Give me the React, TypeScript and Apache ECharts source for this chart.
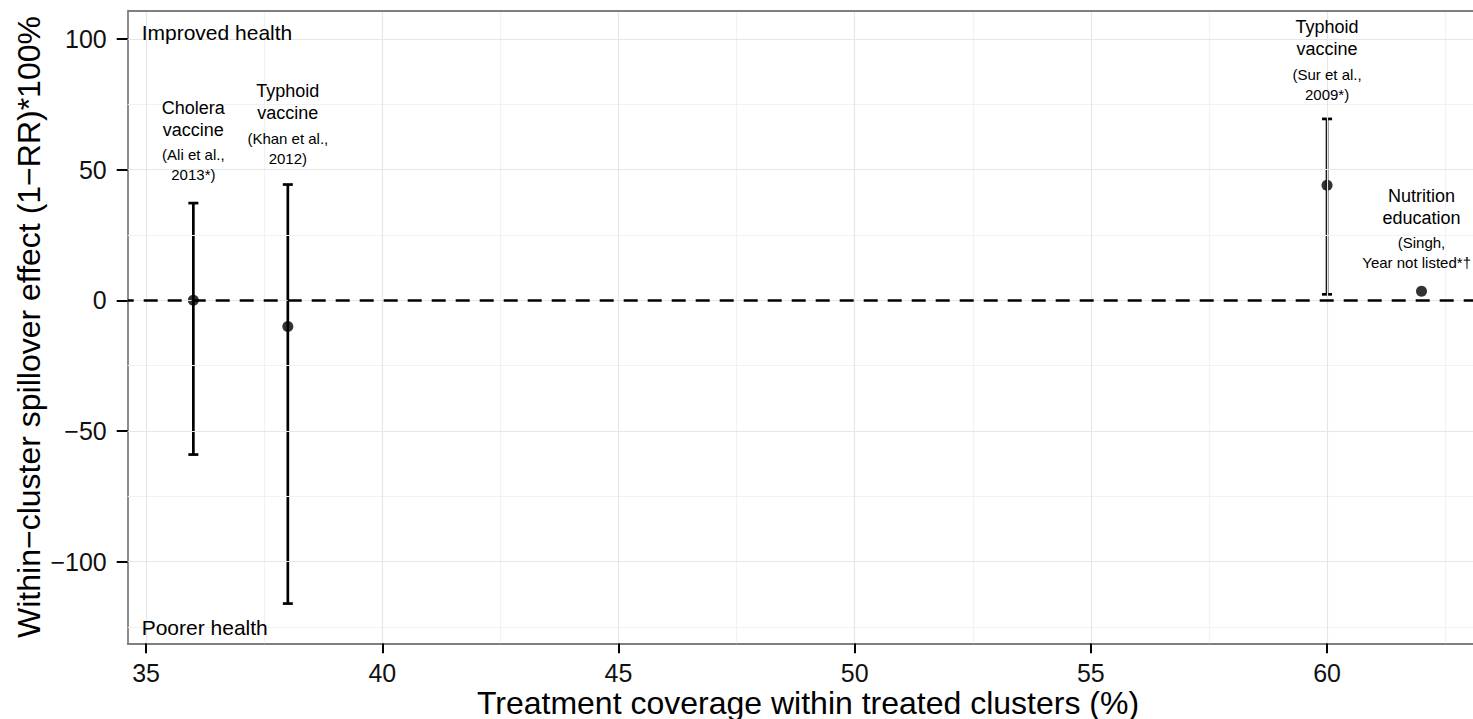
import React, { useEffect, useRef } from "react";
import * as echarts from "echarts";

// ---- data ----
const studyCoverage = [36, 38, 60, 62];
const spillover = [0, -10, 44, 3.5];
const ciLower: (number | null)[] = [-59, -116, 2.3, null];
const ciUpper: (number | null)[] = [37.2, 44.3, 69.4, null];
const interventionLines = [
  ["Cholera", "vaccine"],
  ["Typhoid", "vaccine"],
  ["Typhoid", "vaccine"],
  ["Nutrition", "education"],
];
const citationLines = [
  ["(Ali et al.,", "2013*)"],
  ["(Khan et al.,", "2012)"],
  ["(Sur et al.,", "2009*)"],
  ["(Singh,", "Year not listed*\u2020"],
];
const labelY = [73.6, 79.9, 104.5, 40.0];
const cornerNotes = ["Improved health", "Poorer health"];
const cornerNoteX = [34.906, 34.906];
const cornerNoteY = [102.3, -125.2];

const xTicks = [35, 40, 45, 50, 55, 60];
const yTicks = [-100, -50, 0, 50, 100];
const xMajorGrid = [35, 40, 45, 50, 55, 60];
const xMinorGrid = [37.5, 42.5, 47.5, 52.5, 57.5, 62.5];
const yMajorGrid = [-100, -50, 0, 50, 100];
const yMinorGrid = [-125, -75, -25, 25, 75];
// visible part of the panel (the right side of the original panel is cropped)
const xRange = [34.61, 63.09];
const yRange = [-131.2, 110.8];
const referenceLine = [0];

const FONT = "'Liberation Sans', Arial, Helvetica, sans-serif";
const fmtNum = (v: number) => (v < 0 ? "\u2212" + Math.abs(v) : String(v));
const BORDER = "#7f7f7f";

export default function App() {
  const ref = useRef<HTMLDivElement>(null);
  useEffect(() => {
    document.body.style.margin = "0";
    document.body.style.overflow = "hidden";
    document.documentElement.style.overflow = "hidden";
    if (!ref.current) return;
    const chart = echarts.init(ref.current, undefined, { renderer: "svg" });

    const canvas = document.createElement("canvas");
    const ctx = canvas.getContext("2d");
    const measure = (t: string, fs: number) => {
      if (!ctx) return t.length * fs * 0.5;
      ctx.font = `${fs}px ${FONT}`;
      return ctx.measureText(t).width;
    };

    const gridMark = (vals: number[], key: "xAxis" | "yAxis", color: string) =>
      vals.map((v) => ({ [key]: v, lineStyle: { color, width: 1.2, type: "solid" } }));

    const errData = studyCoverage
      .map((x, i) => [x, ciLower[i], ciUpper[i]])
      .filter((d) => d[1] !== null && d[2] !== null);

    const option: any = {
      animation: false,
      backgroundColor: "#ffffff",
      grid: {
        left: 127.7,
        top: 10.7,
        right: 0,
        bottom: 75.7,
        show: false,
      },
      xAxis: {
        type: "value",
        min: xRange[0],
        max: xRange[1],
        axisLine: { show: true, onZero: false, lineStyle: { color: BORDER, width: 1.8 } },
        axisTick: {
          show: true,
          customValues: xTicks,
          length: 10,
          lineStyle: { color: "#000", width: 2 },
        },
        axisLabel: {
          customValues: xTicks,
          fontSize: 25,
          lineHeight: 20,
          fontFamily: FONT,
          color: "#111",
          margin: 20,
          formatter: (v: number) => fmtNum(v),
        },
        splitLine: { show: false },
      },
      yAxis: {
        type: "value",
        min: yRange[0],
        max: yRange[1],
        axisLine: { show: true, onZero: false, lineStyle: { color: BORDER, width: 1.8 } },
        axisTick: {
          show: true,
          customValues: yTicks,
          length: 11,
          lineStyle: { color: "#000", width: 2 },
        },
        axisLabel: {
          customValues: yTicks,
          fontSize: 25,
          fontFamily: FONT,
          color: "#111",
          margin: 21,
          formatter: (v: number) => fmtNum(v),
        },
        splitLine: { show: false },
      },
      graphic: [
        {
          type: "text",
          x: 808,
          y: 702.5,
          style: {
            text: "Treatment coverage within treated clusters (%)",
            fontSize: 32,
            lineHeight: 28,
            fontFamily: FONT,
            fill: "#000",
            align: "center",
            verticalAlign: "middle",
          },
        },
        {
          type: "text",
          x: 29,
          y: 327,
          rotation: Math.PI / 2,
          style: {
            text: "Within\u2212cluster spillover effect (1\u2212RR)*100%",
            fontSize: 32,
            fontFamily: FONT,
            fill: "#000",
            align: "center",
            verticalAlign: "middle",
          },
        },
      ],
      series: [
        {
          type: "line",
          data: [],
          z: 1,
          silent: true,
          markLine: {
            silent: true,
            symbol: ["none", "none"],
            label: { show: false },
            animation: false,
            data: [
              ...gridMark(xMinorGrid, "xAxis", "#f2f2f2"),
              ...gridMark(yMinorGrid, "yAxis", "#f2f2f2"),
              ...gridMark(xMajorGrid, "xAxis", "#e6e6e6"),
              ...gridMark(yMajorGrid, "yAxis", "#e6e6e6"),
              { yAxis: yRange[1], lineStyle: { color: BORDER, width: 1.8, type: "solid" } },
            ],
          },
        },
        {
          type: "line",
          data: [],
          z: 2,
          silent: true,
          markLine: {
            silent: true,
            symbol: ["none", "none"],
            label: { show: false },
            animation: false,
            data: referenceLine.map((v) => ({
              yAxis: v,
              lineStyle: { color: "#000", width: 2.6, type: [14, 10], dashOffset: 8 },
            })),
          },
        },
        {
          type: "custom",
          z: 3,
          silent: true,
          data: errData,
          renderItem: (_p: any, api: any) => {
            const x = api.value(0);
            const lo = api.coord([x, api.value(1)]);
            const hi = api.coord([x, api.value(2)]);
            const hw = 5;
            const st = { stroke: "#000", lineWidth: 2.7 };
            return {
              type: "group",
              children: [
                { type: "line", shape: { x1: lo[0], y1: lo[1], x2: hi[0], y2: hi[1] }, style: st },
                { type: "line", shape: { x1: lo[0] - hw, y1: lo[1], x2: lo[0] + hw, y2: lo[1] }, style: st },
                { type: "line", shape: { x1: hi[0] - hw, y1: hi[1], x2: hi[0] + hw, y2: hi[1] }, style: st },
              ],
            };
          },
        },
        {
          type: "scatter",
          z: 4,
          silent: true,
          symbol: "circle",
          symbolSize: 11,
          itemStyle: { color: "#000" },
          data: studyCoverage.map((x, i) => [x, spillover[i]]),
        },
        {
          type: "custom",
          z: 5,
          silent: true,
          data: studyCoverage.map((x, i) => [x, labelY[i], i]),
          renderItem: (_p: any, api: any) => {
            const i = api.value(2);
            const p = api.coord([api.value(0), api.value(1)]);
            const W = api.getWidth();
            const mk = (t: string, dy: number, fs: number) => {
              const w = measure(t, fs);
              const fits = p[0] + w / 2 <= W - 2;
              return {
                type: "text",
                x: fits ? p[0] : W - 2,
                y: p[1] + dy,
                style: {
                  text: t,
                  fontSize: fs,
                  fontFamily: FONT,
                  fill: "#000",
                  align: fits ? "center" : "right",
                  verticalAlign: "middle",
                },
              };
            };
            return {
              type: "group",
              children: [
                mk(interventionLines[i][0], 0, 18),
                mk(interventionLines[i][1], 22, 18),
                mk(citationLines[i][0], 47, 15),
                mk(citationLines[i][1], 67, 15),
              ],
            };
          },
        },
        {
          type: "custom",
          z: 5,
          silent: true,
          data: cornerNotes.map((_, i) => [cornerNoteX[i], cornerNoteY[i], i]),
          renderItem: (_p: any, api: any) => {
            const i = api.value(2);
            const p = api.coord([api.value(0), api.value(1)]);
            return {
              type: "text",
              x: p[0],
              y: p[1],
              style: {
                text: cornerNotes[i],
                fontSize: 21,
                fontFamily: FONT,
                fill: "#000",
                align: "left",
                verticalAlign: "middle",
              },
            };
          },
        },
      ],
    };
    chart.setOption(option);
    return () => chart.dispose();
  }, []);
  return <div ref={ref} style={{ width: 1473, height: 719, overflow: "hidden" }} />;
}
